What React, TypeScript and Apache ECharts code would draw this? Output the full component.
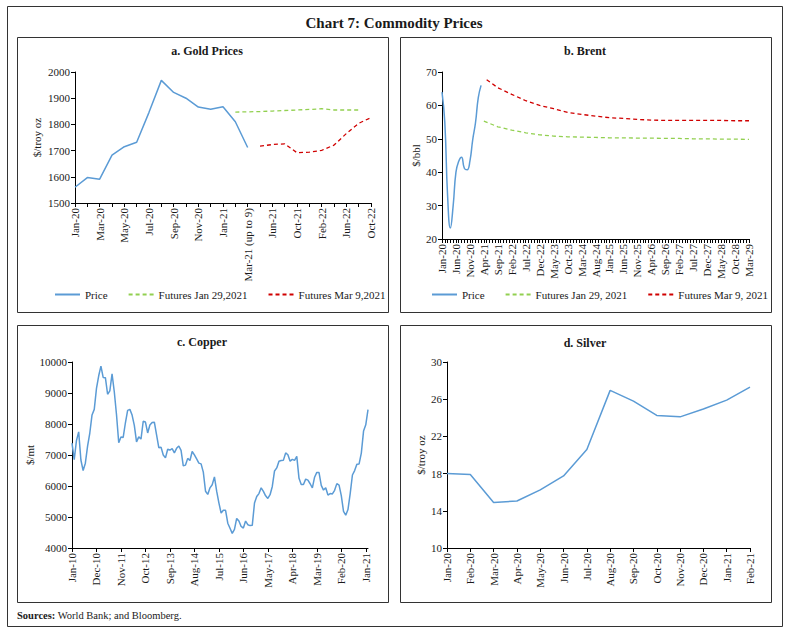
import React, { useEffect, useRef } from "react";
import * as echarts from "echarts";

const FONT = "'Liberation Serif', 'DejaVu Serif', serif";
const BLUE = "#5b9bd5";
const GREEN = "#92d050";
const RED = "#d00000";
const INK = "#1a1a1a";

// ---------- Panel a: Gold ----------
const goldCats = [
  "Jan-20", "Feb-20", "Mar-20", "Apr-20", "May-20", "Jun-20", "Jul-20", "Aug-20",
  "Sep-20", "Oct-20", "Nov-20", "Dec-20", "Jan-21", "Feb-21", "Mar-21 (up to 9)",
  "Apr-21", "Jun-21", "Aug-21", "Oct-21", "Dec-21", "Feb-22", "Apr-22", "Jun-22",
  "Aug-22", "Oct-22",
];
const goldPrice = [1560, 1597, 1591, 1683, 1715, 1732, 1846, 1968, 1922, 1900, 1866, 1858, 1867, 1810, 1712];
const goldFutJan: [string, number][] = [
  ["Feb-21", 1847], ["Mar-21 (up to 9)", 1848], ["Apr-21", 1849], ["Jun-21", 1851],
  ["Aug-21", 1853], ["Oct-21", 1855], ["Dec-21", 1857], ["Feb-22", 1860],
  ["Apr-22", 1855], ["Jun-22", 1855], ["Aug-22", 1855],
];
const goldFutMar: [string, number][] = [
  ["Apr-21", 1717], ["Jun-21", 1723], ["Aug-21", 1726], ["Oct-21", 1692],
  ["Dec-21", 1694], ["Feb-22", 1701], ["Apr-22", 1721], ["Jun-22", 1765],
  ["Aug-22", 1804], ["Oct-22", 1826],
];

// ---------- Panel b: Brent ----------
const MONTHS = ["Jan", "Feb", "Mar", "Apr", "May", "Jun", "Jul", "Aug", "Sep", "Oct", "Nov", "Dec"];
function monthLabels(startYear: number, count: number): string[] {
  const out: string[] = [];
  for (let i = 0; i < count; i++) {
    const y = startYear + Math.floor(i / 12);
    out.push(`${MONTHS[i % 12]}-${String(y % 100).padStart(2, "0")}`);
  }
  return out;
}
const brentCats = monthLabels(2020, 111); // Jan-20 .. Mar-29
const brentPrice = [64, 55, 33, 23.3, 30, 40, 43.3, 44.5, 41.2, 40.7, 43.3, 49.7, 54.8, 62.3, 66];
const brentFutJan: [string, number][] = [
  ["Apr-21", 55.3], ["Sep-21", 53.6], ["Feb-22", 52.6], ["Jul-22", 51.8], ["Dec-22", 51.2],
  ["May-23", 50.8], ["Oct-23", 50.6], ["Mar-24", 50.5], ["Aug-24", 50.4], ["Jan-25", 50.3],
  ["Jun-25", 50.3], ["Nov-25", 50.2], ["Apr-26", 50.2], ["Sep-26", 50.1], ["Feb-27", 50.1],
  ["Jul-27", 50.0], ["Dec-27", 50.0], ["May-28", 49.9], ["Oct-28", 49.9], ["Mar-29", 49.8],
];
const brentFutMar: [string, number][] = [
  ["May-21", 67.7], ["Sep-21", 65.3], ["Feb-22", 63.3], ["Jul-22", 61.4], ["Dec-22", 60.0],
  ["May-23", 59.0], ["Oct-23", 57.9], ["Mar-24", 57.3], ["Aug-24", 56.8], ["Jan-25", 56.3],
  ["Jun-25", 56.1], ["Nov-25", 55.8], ["Apr-26", 55.6], ["Sep-26", 55.5], ["Feb-27", 55.5],
  ["Jul-27", 55.5], ["Dec-27", 55.5], ["May-28", 55.5], ["Oct-28", 55.4], ["Mar-29", 55.4],
];

// ---------- Panel c: Copper ----------
const copperCats = monthLabels(2010, 134); // Jan-10 .. Feb-21
const copper = [
  7386, 6848, 7463, 7745, 6838, 6499, 6735, 7284, 7709, 8292, 8472, 9147,
  9556, 9868, 9503, 9493, 8960, 9066, 9619, 9041, 8300, 7394, 7581, 7565,
  8040, 8441, 8471, 8289, 7956, 7423, 7584, 7515, 8088, 8062, 7711, 7967,
  8047, 8060, 7646, 7234, 7253, 7000, 6907, 7186, 7159, 7203, 7071, 7215,
  7291, 7149, 6650, 6674, 6891, 6821, 7113, 7002, 6872, 6737, 6713, 6446,
  5831, 5729, 5940, 6042, 6295, 5833, 5457, 5127, 5217, 5216, 4800, 4639,
  4472, 4599, 4954, 4873, 4695, 4642, 4869, 4751, 4722, 4731, 5450, 5660,
  5755, 5941, 5825, 5684, 5600, 5720, 5985, 6485, 6583, 6799, 6823, 6834,
  7066, 7007, 6800, 6858, 6826, 6955, 6248, 6052, 6051, 6221, 6188, 6072,
  5939, 6284, 6439, 6434, 6021, 5868, 5941, 5709, 5756, 5744, 5861, 6077,
  6031, 5688, 5183, 5058, 5239, 5755, 6354, 6498, 6705, 6712, 7062, 7772,
  7972, 8461,
];

// ---------- Panel d: Silver ----------
const silverCats = [
  "Jan-20", "Feb-20", "Mar-20", "Apr-20", "May-20", "Jun-20", "Jul-20",
  "Aug-20", "Sep-20", "Oct-20", "Nov-20", "Dec-20", "Jan-21", "Feb-21",
];
const silver = [18.0, 17.9, 14.9, 15.05, 16.25, 17.75, 20.6, 26.95, 25.8, 24.25, 24.1, 24.95, 25.9, 27.3];

const legendA = ["Price", "Futures Jan 29,2021", "Futures Mar 9,2021"];
const legendB = ["Price", "Futures Jan 29, 2021", "Futures Mar 9, 2021"];

function xAxisBase(gridIndex: number, data: string[], labelInterval: number, tickInterval: number) {
  return {
    type: "category",
    gridIndex,
    data,
    boundaryGap: false,
    axisLine: { show: true, lineStyle: { color: "#000", width: 1 } },
    axisTick: { show: true, interval: tickInterval, length: 4, lineStyle: { color: "#000" } },
    axisLabel: {
      interval: labelInterval,
      rotate: 90,
      fontSize: 11,
      fontFamily: FONT,
      color: INK,
      margin: 5,
    },
    splitLine: { show: false },
  };
}
function yAxisBase(gridIndex: number, min: number, max: number, interval: number, name: string, nameGap: number) {
  return {
    type: "value",
    gridIndex,
    min,
    max,
    interval,
    name,
    nameLocation: "middle",
    nameRotate: 90,
    nameGap,
    nameTextStyle: { fontSize: 11, fontFamily: FONT, color: INK },
    axisLine: { show: true, lineStyle: { color: "#000", width: 1 } },
    axisTick: { show: true, length: 4, lineStyle: { color: "#000" } },
    axisLabel: {
      fontSize: 11,
      fontFamily: FONT,
      color: INK,
      margin: 5,
      formatter: (v: number) => String(v),
    },
    splitLine: { show: false },
  };
}
function lineSeries(name: string, xi: number, data: any, color: string, dashed: boolean, smooth = false) {
  return {
    type: "line",
    name,
    xAxisIndex: xi,
    yAxisIndex: xi,
    data,
    smooth,
    symbol: "none",
    showSymbol: false,
    connectNulls: true,
    lineStyle: { color, width: dashed ? 1.3 : 1.5, type: dashed ? [4, 3] : "solid" },
    itemStyle: { color },
  };
}
function txt(x: number, y: number, text: string, size: number, bold = true, align = "center") {
  return {
    type: "text",
    x,
    y,
    style: {
      text,
      font: `${bold ? "bold " : ""}${size}px ${FONT}`,
      fill: INK,
      align,
      verticalAlign: "middle",
      textAlign: align,
      textVerticalAlign: "middle",
    },
  };
}
function box(x1: number, y1: number, x2: number, y2: number) {
  return {
    type: "rect",
    shape: { x: x1 + 0.5, y: y1 + 0.5, width: x2 - x1, height: y2 - y1 },
    style: { fill: "none", stroke: "#333", lineWidth: 1 },
  };
}
function legendBase(left: number, data: string[]) {
  return {
    left,
    top: 289,
    padding: 0,
    itemWidth: 25,
    itemHeight: 10,
    itemGap: 20,
    data,
    selectedMode: false,
    itemStyle: { opacity: 0 },
    textStyle: { fontSize: 11, fontFamily: FONT, color: INK },
  };
}

export default function App() {
  const ref = useRef<HTMLDivElement>(null);
  useEffect(() => {
    if (!ref.current) return;
    const chart = echarts.init(ref.current, undefined, { renderer: "svg" });
    chart.setOption({
      animation: false,
      backgroundColor: "#fff",
      textStyle: { fontFamily: FONT },
      grid: [
        { left: 75, top: 72, width: 296, height: 131 },
        { left: 442, top: 72, width: 307, height: 167 },
        { left: 72, top: 362, width: 296, height: 186 },
        { left: 447, top: 362, width: 303, height: 186 },
      ],
      xAxis: [
        xAxisBase(0, goldCats, 1, 0),
        xAxisBase(1, brentCats, 4, 0),
        xAxisBase(2, copperCats, 10, 10),
        xAxisBase(3, silverCats, 0, 0),
      ],
      yAxis: [
        yAxisBase(0, 1500, 2000, 100, "$/troy oz", 33),
        yAxisBase(1, 20, 70, 10, "$/bbl", 21),
        yAxisBase(2, 4000, 10000, 1000, "$/mt", 33),
        yAxisBase(3, 10, 30, 4, "$/troy oz", 21),
      ],
      legend: [legendBase(54, legendA), legendBase(431, legendB)],
      series: [
        lineSeries("Price", 0, goldPrice, BLUE, false),
        lineSeries("Futures Jan 29,2021", 0, goldFutJan, GREEN, true),
        lineSeries("Futures Mar 9,2021", 0, goldFutMar, RED, true),
        lineSeries("Price", 1, brentPrice, BLUE, false, true),
        lineSeries("Futures Jan 29, 2021", 1, brentFutJan, GREEN, true),
        lineSeries("Futures Mar 9, 2021", 1, brentFutMar, RED, true),
        lineSeries("Copper", 2, copper, BLUE, false),
        lineSeries("Silver", 3, silver, BLUE, false),
      ],
      graphic: [
        box(7, 6, 782, 626),
        box(17, 37, 388, 312),
        box(400, 37, 771, 312),
        box(17, 325, 388, 602),
        box(400, 325, 771, 602),
        txt(394, 23, "Chart 7: Commodity Prices", 15),
        txt(207, 51, "a. Gold Prices", 12),
        txt(585, 51, "b. Brent", 12),
        txt(202, 342, "c. Copper", 12),
        txt(585, 343, "d. Silver", 12),
        {
          type: "text",
          x: 17,
          y: 615,
          style: {
            text: "{b|Sources:} World Bank; and Bloomberg.",
            font: `10.5px ${FONT}`,
            fill: INK,
            verticalAlign: "middle",
            textVerticalAlign: "middle",
            rich: { b: { fontWeight: "bold", fontSize: 10.5, fontFamily: FONT, fill: INK } },
          },
        },
      ],
    });
    return () => chart.dispose();
  }, []);
  return (
    <div
      ref={ref}
      style={{ position: "absolute", left: 0, top: 0, width: 788, height: 632, background: "#fff" }}
    />
  );
}
